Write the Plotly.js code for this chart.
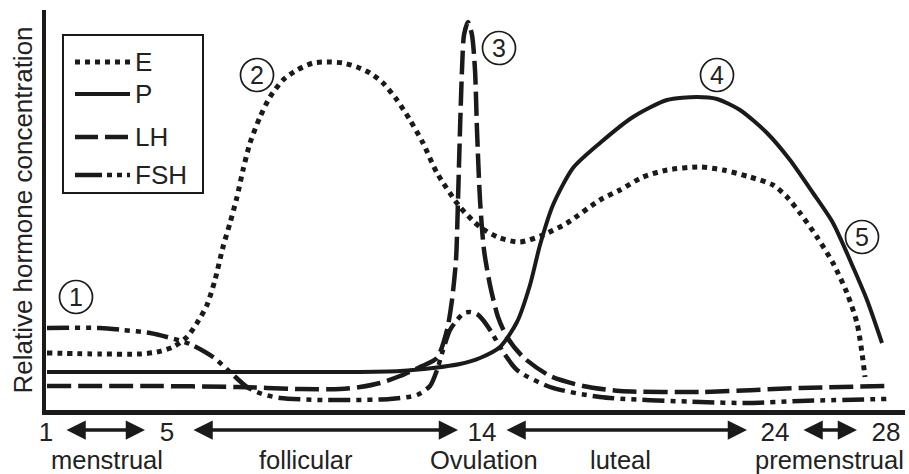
<!DOCTYPE html>
<html><head><meta charset="utf-8">
<script src="https://cdn.plot.ly/plotly-3.0.1.min.js"></script>
<style>html,body{margin:0;padding:0;background:#fff}</style>
</head><body><div id="chart" style="width:909px;height:474px"></div>
<script>
// ---------- data (arbitrary position along cycle, relative concentration) ----------
const seriesNames = ['E', 'P', 'LH', 'FSH'];

const eX = [1,54,94,111,127,141,151,161,169,177,184,191,197,204,214,224,237,251,267,281,297,311,324,337,351,364,377,391,414,434,454,474,497,521,554,574,597,621,654,677,704,727,741,754,771,787,801,811,816,819];
const eY = [57,56,56,58,63,73,87,105,130,163,187,213,240,267,293,313,330,340,347,348,347,343,337,327,310,290,267,237,203,183,172,168,175,187,210,220,233,240,243,240,233,225,213,197,173,147,117,87,57,33];

const pX = [1,154,304,354,387,414,434,454,471,484,494,507,527,554,587,621,651,671,694,721,744,767,787,807,821,836];
const pY = [38,38,38,39,42,46,52,63,88,125,165,205,242,267,293,310,313,311,300,277,250,217,187,143,110,67];

const lhX = [1,104,191,254,294,314,334,354,374,391,401,406,410,412,414,416,418,422,426,429,431,434,438,444,452,461,477,504,537,574,654,754,841];
const lhY = [24,24,23,21,21,23,27,34,43,52,80,110,150,210,280,340,375,388,375,340,280,210,160,125,93,73,53,34,24,19,18,22,24];

const fshX = [1,54,77,104,121,144,167,184,201,216,234,277,344,371,384,391,397,404,411,418,424,431,437,446,454,471,504,554,654,704,754,841];
const fshY = [82,82,80,77,73,66,53,38,23,16,12,10,11,15,24,40,60,80,90,97,98,96,90,77,63,40,23,13,8,7,9,11];

const dayTickPos  = [0, 121, 436, 729, 840];
const dayTickText = ['1', '5', '14', '24', '28'];
const phaseNames  = ['menstrual', 'follicular', 'Ovulation', 'luteal', 'premenstrual'];
const markerLabels = ['1', '2', '3', '4', '5'];

// ---------- layout helpers (positions in axis units) ----------
const INK = '#1a1a1a';
const FONT = 'Liberation Sans, Arial, sans-serif';
const styles = [
  {width: 5,   dash: '5px,5px'},
  {width: 4,   dash: 'solid'},
  {width: 4.5, dash: '24px,7px'},
  {width: 4.5, dash: '22px,6px,5px,6px,5px,6px'}
];
const xs = [eX, pX, lhX, fshX], ys = [eY, pY, lhY, fshY];

const traces = seriesNames.map((n, i) => ({
  x: xs[i], y: ys[i], name: n, type: 'scatter', mode: 'lines',
  line: {color: INK, width: styles[i].width, dash: styles[i].dash, shape: 'spline', smoothing: 0.7},
  hoverinfo: 'skip', showlegend: false
}));

const shapes = [];
const annotations = [];

// custom legend
shapes.push({type: 'rect', xref: 'x', yref: 'y', x0: 17, x1: 157, y0: 217, y1: 375,
  line: {color: INK, width: 2}, fillcolor: 'rgba(0,0,0,0)'});
const legendRows = [348, 316, 273, 235];
const legendDash = ['5px,5px', 'solid', '23px,7px', '27px,5px,5px,5px,5px,5px,5px,5px'];
seriesNames.forEach((n, i) => {
  shapes.push({type: 'line', xref: 'x', yref: 'y', x0: 29, x1: 84, y0: legendRows[i], y1: legendRows[i],
    line: {color: INK, width: styles[i].width, dash: legendDash[i]}});
  annotations.push({xref: 'x', yref: 'y', x: 87, y: legendRows[i], text: n, showarrow: false,
    xanchor: 'left', yanchor: 'middle', font: {family: FONT, size: 26, color: '#222'}});
});

// circled markers
const circleCenters = [[30, 113], [211, 335], [453, 362], [671, 335], [816, 173]];
circleCenters.forEach((c, i) => {
  shapes.push({type: 'circle', xref: 'x', yref: 'y', x0: c[0] - 16.5, x1: c[0] + 16.5, y0: c[1] - 16.5, y1: c[1] + 16.5,
    line: {color: INK, width: 1.7}, fillcolor: 'rgba(255,255,255,0)'});
  annotations.push({xref: 'x', yref: 'y', x: c[0], y: c[1], text: markerLabels[i], showarrow: false,
    xanchor: 'center', yanchor: 'middle', font: {family: FONT, size: 25, color: '#222'}});
});

// phase arrows and labels
const arrowSpans = [[19, 99], [146, 412], [459, 701], [756, 811]];
arrowSpans.forEach(s => {
  annotations.push({xref: 'x', yref: 'paper', x: s[1], y: -20 / 400, axref: 'x', ayref: 'pixel', ax: s[0], ay: 0,
    text: '', showarrow: true, arrowhead: 2, startarrowhead: 2, arrowside: 'end+start',
    arrowwidth: 3.5, arrowsize: 1.1, startarrowsize: 1.1, arrowcolor: INK});
});
const phaseCenters = [61, 260, 438, 574, 783];
phaseNames.forEach((n, i) => {
  annotations.push({xref: 'x', yref: 'paper', x: phaseCenters[i], y: -50 / 400, text: n, showarrow: false,
    xanchor: 'center', yanchor: 'middle', font: {family: FONT, size: 25.5, color: '#222'}});
});

const layout = {
  width: 909, height: 474,
  margin: {l: 46, r: 4, t: 10, b: 64, pad: 0},
  paper_bgcolor: '#fff', plot_bgcolor: '#fff',
  showlegend: false,
  xaxis: {range: [0, 859], showgrid: false, zeroline: false, showline: true, linecolor: INK, linewidth: 4.5,
    ticks: '', tickvals: dayTickPos, ticktext: dayTickText, ticklabelstandoff: -5,
    tickfont: {family: FONT, size: 26, color: '#222'}, fixedrange: true},
  yaxis: {range: [0, 400], showgrid: false, zeroline: false, showline: true, linecolor: INK, linewidth: 4.5,
    ticks: '', showticklabels: false, fixedrange: true,
    title: {text: 'Relative hormone concentration', font: {family: FONT, size: 26, color: '#222'}, standoff: 3}},
  shapes: shapes, annotations: annotations
};

Plotly.newPlot('chart', traces, layout, {displayModeBar: false, staticPlot: true});
</script></body></html>
